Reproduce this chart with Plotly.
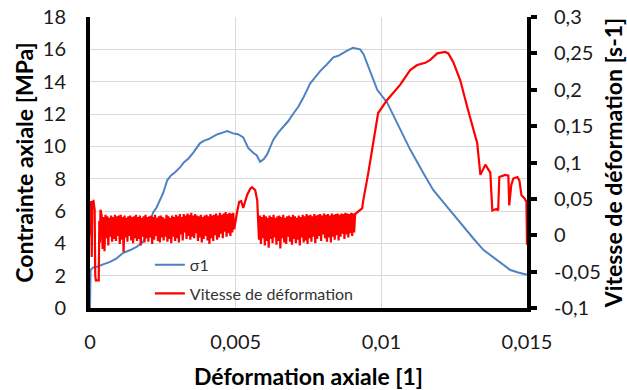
import plotly.graph_objects as go

# ---------------- data ----------------
sigma_x = [0.0, 0.00002, 0.0001, 0.00024, 0.00045, 0.00069, 0.0009, 0.00113, 0.0014, 0.00161,
           0.0018, 0.00196, 0.00206, 0.00216, 0.00228, 0.0024, 0.00251, 0.00265, 0.00278, 0.00292,
           0.00309, 0.00322, 0.00338, 0.00354, 0.00366, 0.00378, 0.00392, 0.00408, 0.00422, 0.00438,
           0.00455, 0.00471, 0.00491, 0.00508, 0.00526, 0.00535, 0.00543, 0.0056, 0.00572, 0.00584,
           0.00596, 0.00608, 0.00618, 0.00629, 0.00646, 0.00663, 0.0068, 0.00697, 0.00715, 0.00732,
           0.00745, 0.00756, 0.00772, 0.0079, 0.00812, 0.00835, 0.00852, 0.00869, 0.00886, 0.00903,
           0.00915, 0.00927, 0.00939, 0.00951, 0.00968, 0.00986, 0.0102, 0.01055, 0.01099, 0.01144,
           0.01178, 0.01226, 0.01271, 0.01316, 0.0135, 0.0138, 0.01408, 0.01443, 0.0147, 0.015]
sigma_y = [0.0, 2.35, 2.5, 2.55, 2.7, 2.85, 3.05, 3.4, 3.6, 3.8,
           4.05, 4.5, 5.1, 5.9, 6.2, 6.7, 7.1, 7.9, 8.2, 8.4,
           8.7, 9.0, 9.25, 9.6, 9.9, 10.2, 10.35, 10.45, 10.6, 10.75,
           10.85, 10.95, 10.8, 10.75, 10.55, 10.2, 9.9, 9.6, 9.45, 9.05,
           9.2, 9.5, 9.95, 10.4, 10.85, 11.2, 11.55, 12.0, 12.45, 13.0,
           13.45, 13.9, 14.25, 14.65, 15.05, 15.5, 15.6, 15.8, 15.95, 16.1,
           16.05, 16.0, 15.7, 15.15, 14.3, 13.5, 12.7, 11.4, 9.8, 8.35,
           7.3, 6.25, 5.25, 4.3, 3.6, 3.2, 2.85, 2.35, 2.2, 2.05]

# strain rate: start transient
rate_start_x = [0.00001, 0.00003, 0.00006, 0.00008, 0.00012, 0.00016, 0.00018, 0.0002, 0.0003, 0.00032, 0.00034, 0.00036]
rate_start_y = [0.0, 0.047, -0.03, 0.046, 0.047, 0.035, -0.055, -0.062, -0.062, 0.02, -0.01, 0.035]

# first noisy plateau (strain 0.0004 -> 0.00495)
rate_seg1_x0, rate_seg1_x1 = 0.0004, 0.00495
rate_seg1_y = [0.027, -0.019, 0.025, -0.022, 0.028, -0.004, 0.026, -0.014, 0.024, -0.002,
               0.027, -0.009, 0.025, -0.005, 0.028, -0.008, 0.026, -0.001, 0.027, -0.012,
               0.028, -0.006, 0.025, -0.023, 0.027, -0.003, 0.024, -0.009, 0.026, -0.001,
               0.027, -0.007, 0.025, -0.011, 0.026, -0.004, 0.028, -0.008, 0.025, -0.005,
               0.027, -0.014, 0.024, -0.002, 0.026, -0.010, 0.028, -0.004, 0.025, -0.009,
               0.026, -0.003, 0.027, -0.012, 0.025, -0.006, 0.028, -0.001, 0.024, -0.008,
               0.026, -0.010, 0.027, -0.003, 0.025, -0.007, 0.023, -0.002, 0.028, -0.009,
               0.026, -0.005, 0.024, -0.011, 0.027, -0.002, 0.025, -0.008, 0.028, -0.004,
               0.026, -0.010, 0.029, 0.001, 0.025, -0.007, 0.029, 0.004, 0.027, -0.005,
               0.030, -0.001, 0.028, -0.006, 0.031, -0.002, 0.027, -0.004, 0.029, 0.003,
               0.027, -0.008, 0.026, -0.003, 0.028, -0.010, 0.025, -0.005, 0.027, -0.001,
               0.028, -0.007, 0.026, -0.012, 0.029, -0.004, 0.027, -0.008, 0.028, 0.000,
               0.030, -0.006, 0.027, -0.003, 0.031, 0.002, 0.028, -0.004, 0.030, 0.005,
               0.032, -0.002, 0.029, 0.003, 0.031, -0.001, 0.030, 0.004, 0.031, 0.008]

# smooth bump around 0.0052-0.0058
rate_bump_x = [0.00505, 0.00512, 0.00519, 0.00526, 0.00539, 0.0055, 0.00556, 0.00567, 0.00574, 0.00577]
rate_bump_y = [0.032, 0.046, 0.047, 0.0375, 0.055, 0.064, 0.066, 0.062, 0.048, 0.024]

# second noisy plateau (strain 0.0058 -> 0.0091)
rate_seg2_x0, rate_seg2_x1 = 0.0058, 0.0091
rate_seg2_y = [-0.006, 0.027, -0.012, 0.025, -0.004, 0.028, -0.014, 0.026, -0.008, 0.024,
               -0.017, 0.027, -0.005, 0.025, -0.011, 0.028, -0.003, 0.024, -0.013, 0.026,
               -0.008, 0.027, -0.018, 0.025, -0.004, 0.028, -0.010, 0.024, -0.012, 0.026,
               -0.002, 0.027, -0.009, 0.025, -0.013, 0.028, -0.005, 0.026, -0.011, 0.024,
               -0.006, 0.027, -0.014, 0.025, -0.003, 0.028, -0.010, 0.026, -0.007, 0.029,
               -0.012, 0.027, -0.004, 0.028, -0.009, 0.026, -0.002, 0.029, -0.011, 0.027,
               -0.005, 0.028, -0.001, 0.029, -0.008, 0.027, 0.001, 0.030, -0.004, 0.028,
               -0.009, 0.029, -0.003, 0.027, -0.010, 0.030, -0.002, 0.028, -0.006, 0.029,
               0.000, 0.030, -0.007, 0.028, -0.002, 0.030, 0.002, 0.029, -0.005, 0.031,
               0.001, 0.030, -0.003, 0.029, 0.003, 0.031, -0.001, 0.030, 0.004, 0.029]

# rise, peak and end
rate_end_x = [0.00917, 0.00934, 0.00938, 0.00955, 0.00989, 0.0102, 0.01065, 0.01099, 0.01123, 0.01151,
              0.01168, 0.01192, 0.01219, 0.0123, 0.01247, 0.01271, 0.01295, 0.01329, 0.0134, 0.01357,
              0.01374, 0.01381, 0.01395, 0.01401, 0.01405, 0.01425, 0.01436, 0.01439, 0.01446, 0.01453,
              0.01467, 0.01474, 0.01481, 0.01491, 0.01498, 0.015]
rate_end_y = [0.031, 0.037, 0.048, 0.085, 0.168, 0.186, 0.207, 0.227, 0.234, 0.237,
              0.241, 0.25, 0.252, 0.25, 0.238, 0.213, 0.176, 0.127, 0.083, 0.097,
              0.086, 0.034, 0.036, 0.034, 0.08, 0.083, 0.082, 0.041, 0.069, 0.078,
              0.08, 0.075, 0.055, 0.051, 0.046, -0.013]

x_tickvals = [0, 0.005, 0.01, 0.015]
x_ticktext = ["0", "0,005", "0,01", "0,015"]
y_tickvals = [0, 2, 4, 6, 8, 10, 12, 14, 16, 18]
y2_tickvals = [-0.1, -0.05, 0, 0.05, 0.1, 0.15, 0.2, 0.25, 0.3]
y2_ticktext = ["-0,1", "-0,05", "0", "0,05", "0,1", "0,15", "0,2", "0,25", "0,3"]


def spread(x0, x1, n):
    step = (x1 - x0) / (n - 1)
    return [x0 + i * step for i in range(n)]


rate_x = (rate_start_x + spread(rate_seg1_x0, rate_seg1_x1, len(rate_seg1_y)) + rate_bump_x
          + spread(rate_seg2_x0, rate_seg2_x1, len(rate_seg2_y)) + rate_end_x)
rate_y = rate_start_y + rate_seg1_y + rate_bump_y + rate_seg2_y + rate_end_y

FONT = "Lato"
fig = go.Figure()
fig.add_trace(go.Scatter(x=sigma_x, y=sigma_y, mode="lines", name="σ1",
                         line=dict(color="#4F82C4", width=2), legendgroup="a"))
fig.add_trace(go.Scatter(x=rate_x, y=rate_y, mode="lines", name="Vitesse de déformation",
                         line=dict(color="#FF0000", width=2.2), yaxis="y2", legendgroup="b"))

fig.update_layout(
    width=627, height=390,
    margin=dict(l=90, r=100, t=17, b=82, autoexpand=False),
    paper_bgcolor="white", plot_bgcolor="white",
    font=dict(family=FONT, color="#1a1a1a"),
    showlegend=True,
    legend=dict(x=0.137, y=0.207, xanchor="left", yanchor="top", bgcolor="rgba(0,0,0,0)",
                font=dict(size=16, family=FONT, color="#333333"), tracegroupgap=5,
                itemwidth=30),
    xaxis=dict(range=[0, 0.015], tickvals=x_tickvals, ticktext=x_ticktext, automargin=False,
               showgrid=True, gridcolor="#D9D9D9", gridwidth=1, zeroline=False,
               showline=True, linecolor="black", linewidth=4, ticks="",
               tickfont=dict(size=20), ticklabelstandoff=13,
               title=dict(text="<b>Déformation axiale [1]</b>", font=dict(size=23, color="black"), standoff=22)),
    yaxis=dict(range=[0, 18], tickvals=y_tickvals, showgrid=True, gridcolor="#D9D9D9", gridwidth=1,
               automargin=False,
               zeroline=False, showline=True, linecolor="black", linewidth=4, ticks="",
               tickfont=dict(size=20), ticklabelstandoff=16,
               title=dict(text="<b>Contrainte axiale [MPa]</b>", font=dict(size=23, color="black"), standoff=4)),
    yaxis2=dict(range=[-0.1, 0.3], tickvals=y2_tickvals, ticktext=y2_ticktext, overlaying="y", side="right",
                automargin=False,
                showgrid=False, zeroline=False, showline=True, linecolor="black", linewidth=4,
                ticks="outside", ticklen=6, tickwidth=4, tickcolor="black",
                tickfont=dict(size=20), ticklabelstandoff=13,
                title=dict(text="<b>Vitesse de déformation [s-1]</b>", font=dict(size=23, color="black"), standoff=4)),
)

fig.write_html("out.html", config={"displayModeBar": False},
               post_script="document.body.style.margin='0';")
